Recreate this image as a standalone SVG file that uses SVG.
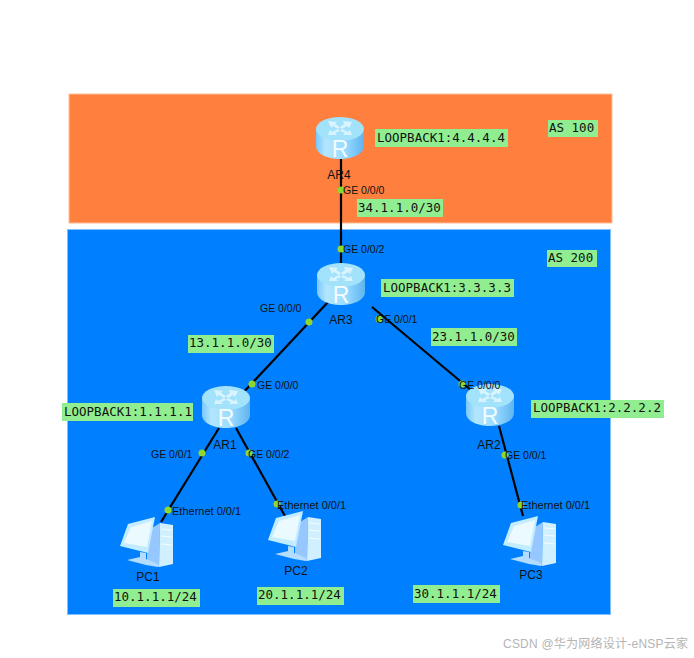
<svg xmlns="http://www.w3.org/2000/svg" xmlns:xlink="http://www.w3.org/1999/xlink" width="694" height="658" viewBox="0 0 694 658">
<style>
.lbl{font-family:"DejaVu Sans Mono","Liberation Mono",monospace;font-size:12.500px;fill:#111}
.box{fill:#90ee90}
.port{font-family:"Liberation Sans",Arial,sans-serif;font-size:10.500px;fill:#111}
.eth{font-size:11px}
.name{font-family:"Liberation Sans",Arial,sans-serif;font-size:12px;fill:#111;text-anchor:middle}
.link{stroke:#000;stroke-width:2.200;fill:none}
.dot{fill:#8fd62f}
</style>
<defs>
<linearGradient id="rg" x1="0" x2="1" y1="0" y2="0">
<stop offset="0" stop-color="#78c8fa"/><stop offset="0.2" stop-color="#b4e6ff"/><stop offset="0.6" stop-color="#9adcff"/><stop offset="1" stop-color="#5fb4f0"/>
</linearGradient>
<symbol id="router" viewBox="0 0 48 42" width="48" height="42" overflow="visible">
<path d="M0 12V29C0 36.500 10.700 42 24 42S48 36.500 48 29V12Z" fill="url(#rg)"/>
<ellipse cx="24" cy="12" rx="24" ry="12" fill="#a2e2fb"/>
<path d="M12 4L21 5L19 7L24 10L22 12L17 9L15 11ZM36 5L27 4L28 7L24 10L26 12L31 9L33 11ZM12 18L14 13L16 15L22 12L24 14L19 16L21 18ZM36 18L34 13L32 15L26 12L24 14L29 16L27 18Z" fill="#dff6ff" fill-opacity="0.9"/>
<text x="24" y="40" font-family="Liberation Sans,Arial,sans-serif" font-size="23" fill="#f4fcff" text-anchor="middle">R</text>
</symbol>
<symbol id="pc" viewBox="0 0 52 50" width="52" height="50" overflow="visible">
<path d="M30 11L38 6L37 50L25 46V38Z" fill="#96c8ff"/>
<path d="M38 6L51 8V47L37 50Z" fill="#d0f0ff"/>
<path d="M39 12L50 13M39 19L50 20M39 27L50 28" stroke="#f2fcff" stroke-width="1.200"/>
<path d="M5 43L18 40V35L24 36V42L36 47V50L24 48Z" fill="#b4dcff"/>
<path d="M6 7L33 0L26 36L-2 29Z" fill="#c2ecff"/>
<path d="M9 10L30 4L25 30L2 26Z" fill="#eafaff"/>
</symbol>
</defs>

<rect width="694" height="658" fill="#fff"/>
<g id="zones">
<rect x="69" y="94" width="543" height="129" fill="#ff7f3f" stroke="#ffc09a" stroke-width="1"/>
<rect x="67.500" y="229.500" width="543" height="385" fill="#0080ff" stroke="#7fbfff" stroke-width="1"/>
</g>

<g id="connectors">
<path class="link" d="M341 159V263"/>
<path class="link" d="M329 301L240 396"/>
<path class="link" d="M372 307L472 391"/>
<path class="link" d="M219 428L161 522"/>
<path class="link" d="M236 428L285 516"/>
<path class="link" d="M499 426L523 516"/>
<circle class="dot" cx="341" cy="190" r="3.500"/>
<circle class="dot" cx="341" cy="249" r="3.500"/>
<circle class="dot" cx="309" cy="322" r="3.500"/>
<circle class="dot" cx="379" cy="319" r="3.500"/>
<circle class="dot" cx="252" cy="384" r="3.500"/>
<circle class="dot" cx="462" cy="384" r="3.500"/>
<circle class="dot" cx="202" cy="453" r="3.500"/>
<circle class="dot" cx="249" cy="453" r="3.500"/>
<circle class="dot" cx="505" cy="455" r="3.500"/>
<circle class="dot" cx="168" cy="510" r="3.500"/>
<circle class="dot" cx="277" cy="504" r="3.500"/>
<circle class="dot" cx="521" cy="505" r="3.500"/>
</g>

<g id="AR4"><use xlink:href="#router" href="#router" x="316" y="117"/><text class="name" x="339" y="179">AR4</text></g>
<g id="AR3"><use xlink:href="#router" href="#router" x="317" y="263"/><text class="name" x="341" y="324">AR3</text></g>
<g id="AR1"><use xlink:href="#router" href="#router" x="202" y="386"/><text class="name" x="225" y="449">AR1</text></g>
<g id="AR2"><use xlink:href="#router" href="#router" x="466" y="384"/><text class="name" x="489" y="449">AR2</text></g>
<g id="PC1"><use xlink:href="#pc" href="#pc" x="122" y="517"/><text class="name" x="148" y="581">PC1</text></g>
<g id="PC2"><use xlink:href="#pc" href="#pc" x="270" y="511"/><text class="name" x="296" y="575">PC2</text></g>
<g id="PC3"><use xlink:href="#pc" href="#pc" x="505" y="516"/><text class="name" x="531" y="579">PC3</text></g>

<g id="ports">
<text class="port" x="343" y="194">GE 0/0/0</text>
<text class="port" x="343" y="253">GE 0/0/2</text>
<text class="port" x="260" y="312">GE 0/0/0</text>
<text class="port" x="376" y="323">GE 0/0/1</text>
<text class="port" x="257" y="389">GE 0/0/0</text>
<text class="port" x="459" y="389">GE 0/0/0</text>
<text class="port" x="151" y="458">GE 0/0/1</text>
<text class="port" x="248" y="458">GE 0/0/2</text>
<text class="port" x="505" y="459">GE 0/0/1</text>
<text class="port eth" x="172" y="515">Ethernet 0/0/1</text>
<text class="port eth" x="277" y="509">Ethernet 0/0/1</text>
<text class="port eth" x="521" y="509">Ethernet 0/0/1</text>
</g>

<g id="labels">
<rect class="box" x="375" y="129" width="133" height="18"/><text class="lbl" x="377" y="142">LOOPBACK1:4.4.4.4</text>
<rect class="box" x="548" y="120" width="50" height="17"/><text class="lbl" x="549" y="132">AS 100</text>
<rect class="box" x="357" y="199" width="86" height="18"/><text class="lbl" x="358" y="212">34.1.1.0/30</text>
<rect class="box" x="547" y="250" width="50" height="17"/><text class="lbl" x="548" y="262">AS 200</text>
<rect class="box" x="381" y="279" width="133" height="18"/><text class="lbl" x="383" y="292">LOOPBACK1:3.3.3.3</text>
<rect class="box" x="188" y="335" width="86" height="18"/><text class="lbl" x="189" y="347">13.1.1.0/30</text>
<rect class="box" x="431" y="328" width="86" height="18"/><text class="lbl" x="432" y="341">23.1.1.0/30</text>
<rect class="box" x="62" y="403" width="131" height="18"/><text class="lbl" x="64" y="416">LOOPBACK1:1.1.1.1</text>
<rect class="box" x="531" y="400" width="133" height="18"/><text class="lbl" x="533" y="412">LOOPBACK1:2.2.2.2</text>
<rect class="box" x="113" y="589" width="87" height="18"/><text class="lbl" x="114" y="601">10.1.1.1/24</text>
<rect class="box" x="257" y="587" width="87" height="18"/><text class="lbl" x="258" y="599">20.1.1.1/24</text>
<rect class="box" x="413" y="585" width="87" height="18"/><text class="lbl" x="414" y="598">30.1.1.1/24</text>
</g>
<text x="503" y="648" font-family="Liberation Sans,Noto Sans CJK SC,sans-serif" font-size="12" fill="#b4b4b4" textLength="185">CSDN @华为网络设计-eNSP云家</text>
</svg>
